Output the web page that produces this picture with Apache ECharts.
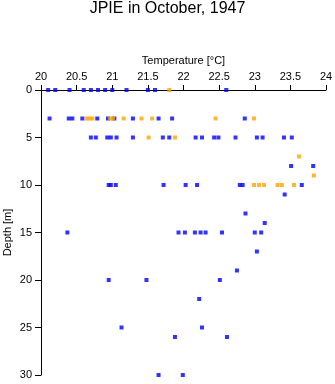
<!DOCTYPE html>
<html><head><meta charset="utf-8">
<script src="https://cdn.jsdelivr.net/npm/echarts@6/dist/echarts.min.js"></script>
<style>html,body{margin:0;padding:0;background:#fff}#c{width:335px;height:384px}</style>
</head><body><div id="c"></div>
<script>
var titleText = "JPIE in October, 1947";
var xName = "Temperature [°C]";
var yName = "Depth [m]";
// blue observations
var blueTemp = [20.1,20.2,20.4,20.6,20.7,20.8,20.9,21.0,21.2,21.5,21.6,22.6,
  20.12,20.39,20.44,20.58,20.79,20.94,21.03,21.29,21.65,21.84,22.86,
  20.7,20.77,20.93,20.98,21.06,21.29,21.71,21.8,22.17,22.26,22.43,22.49,22.73,23.03,23.11,23.41,23.52,
  23.51,23.82,
  20.95,20.98,21.05,21.72,22.03,22.19,22.79,22.83,23.66,
  23.42,22.87,23.14,
  20.37,21.93,22.02,22.16,22.24,22.31,22.54,23.0,23.09,
  23.03,22.75,
  20.95,21.48,22.51,
  22.22,21.13,22.26,21.88,22.61,21.65,21.99];
var blueDepth = [0,0,0,0,0,0,0,0,0,0,0,0,
  3,3,3,3,3,3,3,3,3,3,3,
  5,5,5,5,5,5,5,5,5,5,5,5,5,5,5,5,5,
  8,8,
  10,10,10,10,10,10,10,10,10,
  11,13,14,
  15,15,15,15,15,15,15,15,15,
  17,19,
  20,20,20,
  22,25,25,26,26,30,30];
// orange observations
var orangeTemp = [21.8,
  20.64,20.68,20.72,20.97,21.01,21.16,21.41,21.56,22.45,22.99,
  21.51,21.88,
  23.62,23.83,
  22.99,23.06,23.13,23.32,23.38,23.55];
var orangeDepth = [0,
  3,3,3,3,3,3,3,3,3,3,
  5,5,
  7,9,
  10,10,10,10,10,10];
var xTicks = {min:20, max:24, step:0.5};
var yTicks = {min:0, max:30, step:5};

function pairs(a,b){return a.map(function(v,i){return [v,b[i]];});}
var font = "'Liberation Sans', Arial, sans-serif";
var chart = echarts.init(document.getElementById('c'), null, {renderer:'canvas'});
chart.setOption({
  animation:false,
  backgroundColor:'#fff',
  title:{text:titleText, left:'center', top:-4, textStyle:{fontFamily:font, fontSize:16, fontWeight:'normal', color:'#000'}},
  grid:{left:41, top:90, width:285, height:285, containLabel:false, outerBoundsMode:'none'},
  xAxis:{type:'value', position:'top', min:xTicks.min, max:xTicks.max, interval:xTicks.step,
    name:xName, nameLocation:'middle', nameGap:24, nameMoveOverlap:false,
    nameTextStyle:{fontFamily:font, fontSize:11, color:'#000'},
    axisLine:{lineStyle:{color:'#000', width:1}},
    axisTick:{length:5, lineStyle:{color:'#000'}},
    axisLabel:{fontFamily:font, fontSize:11, color:'#000', margin:8},
    splitLine:{show:false}},
  yAxis:{type:'value', inverse:true, min:yTicks.min, max:yTicks.max, interval:yTicks.step,
    name:yName, nameLocation:'middle', nameGap:28, nameMoveOverlap:false,
    nameTextStyle:{fontFamily:font, fontSize:11, color:'#000'},
    axisLine:{show:true, lineStyle:{color:'#000', width:1}},
    axisTick:{show:true, length:6, lineStyle:{color:'#000'}},
    axisLabel:{fontFamily:font, fontSize:11, color:'#000', margin:9},
    splitLine:{show:false}},
  series:[
    {type:'scatter', data:pairs(blueTemp,blueDepth), symbol:'rect', symbolSize:4, itemStyle:{color:'#0000ff'}},
    {type:'scatter', data:pairs(orangeTemp,orangeDepth), symbol:'rect', symbolSize:4, itemStyle:{color:'#ffa500'}}
  ]
});
</script></body></html>
